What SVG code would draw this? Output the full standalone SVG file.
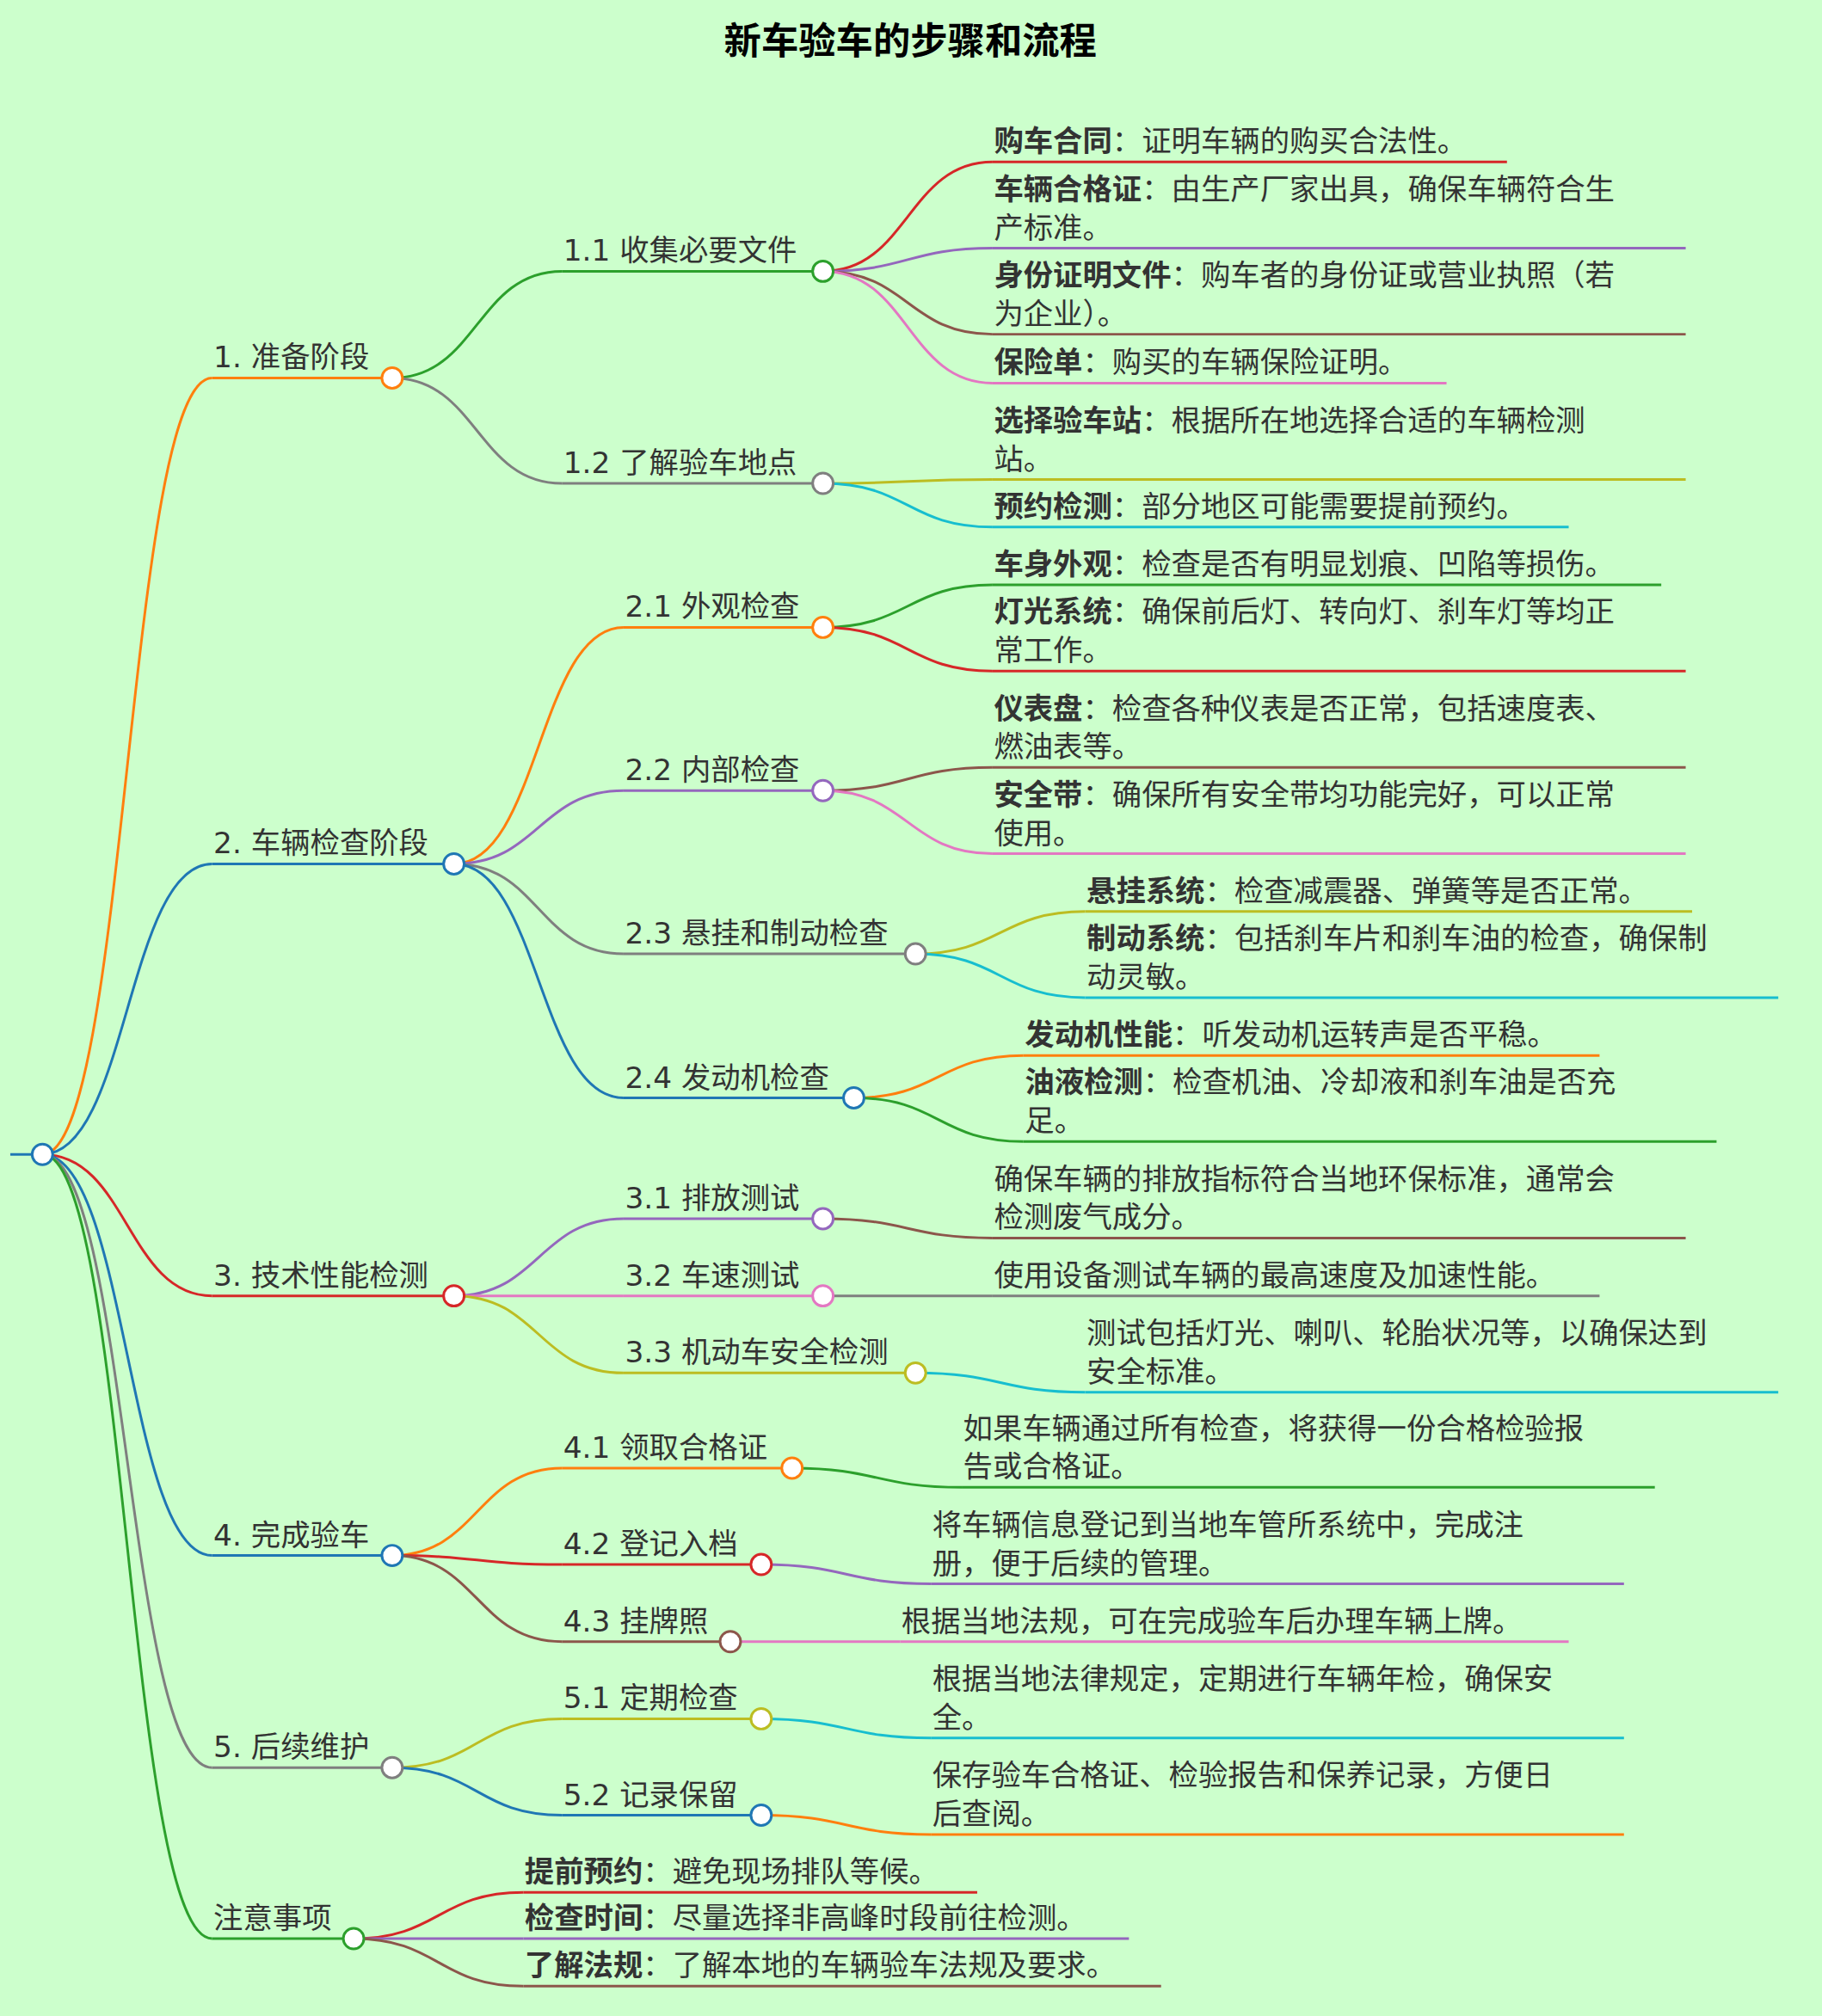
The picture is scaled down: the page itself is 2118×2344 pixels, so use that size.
<svg xmlns="http://www.w3.org/2000/svg" width="2118" height="2344" viewBox="0 0 2118 2344">
<style>
.t{font-family:"DejaVu Sans","Noto Sans CJK SC",sans-serif;font-size:23px;fill:#333}
.b{font-weight:bold}
.e{fill:none;stroke-width:2}
.c{fill:#fff;stroke-width:2}
.title{font-family:"Noto Sans CJK SC",sans-serif;font-size:29px;font-weight:bold;fill:#000}
</style>
<rect width="2118" height="2344" fill="#ccffcc"/>
<g transform="scale(1.4947)">
<text class="title" x="708" y="42" text-anchor="middle">新车验车的步骤和流程</text>
<g id="connectors">
<path class="e" stroke="#1f77b4" d="M8 898H25"/>
<path class="e" stroke="#ff7f0e" d="M33 898C99 898 99 294 165 294"/>
<path class="e" stroke="#1f77b4" d="M33 898C99 898 99 672 165 672"/>
<path class="e" stroke="#d62728" d="M33 898C99 898 99 1008 165 1008"/>
<path class="e" stroke="#1f77b4" d="M33 898C99 898 99 1210 165 1210"/>
<path class="e" stroke="#7f7f7f" d="M33 898C99 898 99 1375 165 1375"/>
<path class="e" stroke="#2ca02c" d="M33 898C99 898 99 1508 165 1508"/>
<path class="e" stroke="#2ca02c" d="M305 294C371 294 371 211 437 211"/>
<path class="e" stroke="#7f7f7f" d="M305 294C371 294 371 376 437 376"/>
<path class="e" stroke="#ff7f0e" d="M353 672C419 672 419 488 485 488"/>
<path class="e" stroke="#9467bd" d="M353 672C419 672 419 615 485 615"/>
<path class="e" stroke="#7f7f7f" d="M353 672C419 672 419 742 485 742"/>
<path class="e" stroke="#1f77b4" d="M353 672C419 672 419 854 485 854"/>
<path class="e" stroke="#9467bd" d="M353 1008C419 1008 419 948 485 948"/>
<path class="e" stroke="#e377c2" d="M353 1008C419 1008 419 1008 485 1008"/>
<path class="e" stroke="#bcbd22" d="M353 1008C419 1008 419 1068 485 1068"/>
<path class="e" stroke="#ff7f0e" d="M305 1210C371 1210 371 1142 437 1142"/>
<path class="e" stroke="#d62728" d="M305 1210C371 1210 371 1217 437 1217"/>
<path class="e" stroke="#8c564b" d="M305 1210C371 1210 371 1277 437 1277"/>
<path class="e" stroke="#bcbd22" d="M305 1375C371 1375 371 1337 437 1337"/>
<path class="e" stroke="#1f77b4" d="M305 1375C371 1375 371 1412 437 1412"/>
<path class="e" stroke="#d62728" d="M275 1508C341 1508 341 1472 407 1472"/>
<path class="e" stroke="#9467bd" d="M275 1508C341 1508 341 1508 407 1508"/>
<path class="e" stroke="#8c564b" d="M275 1508C341 1508 341 1545 407 1545"/>
<path class="e" stroke="#d62728" d="M640 211C706 211 706 126 772 126"/>
<path class="e" stroke="#9467bd" d="M640 211C706 211 706 193 772 193"/>
<path class="e" stroke="#8c564b" d="M640 211C706 211 706 260 772 260"/>
<path class="e" stroke="#e377c2" d="M640 211C706 211 706 298 772 298"/>
<path class="e" stroke="#bcbd22" d="M640 376C706 376 706 373 772 373"/>
<path class="e" stroke="#17becf" d="M640 376C706 376 706 410 772 410"/>
<path class="e" stroke="#2ca02c" d="M640 488C706 488 706 455 772 455"/>
<path class="e" stroke="#d62728" d="M640 488C706 488 706 522 772 522"/>
<path class="e" stroke="#8c564b" d="M640 615C706 615 706 597 772 597"/>
<path class="e" stroke="#e377c2" d="M640 615C706 615 706 664 772 664"/>
<path class="e" stroke="#bcbd22" d="M712 742C778 742 778 709 844 709"/>
<path class="e" stroke="#17becf" d="M712 742C778 742 778 776 844 776"/>
<path class="e" stroke="#ff7f0e" d="M664 854C730 854 730 821 796 821"/>
<path class="e" stroke="#2ca02c" d="M664 854C730 854 730 888 796 888"/>
<path class="e" stroke="#8c564b" d="M640 948C706 948 706 963 772 963"/>
<path class="e" stroke="#7f7f7f" d="M640 1008C706 1008 706 1008 772 1008"/>
<path class="e" stroke="#17becf" d="M712 1068C778 1068 778 1083 844 1083"/>
<path class="e" stroke="#2ca02c" d="M616 1142C682 1142 682 1157 748 1157"/>
<path class="e" stroke="#9467bd" d="M592 1217C658 1217 658 1232 724 1232"/>
<path class="e" stroke="#e377c2" d="M568 1277C634 1277 634 1277 700 1277"/>
<path class="e" stroke="#17becf" d="M592 1337C658 1337 658 1352 724 1352"/>
<path class="e" stroke="#ff7f0e" d="M592 1412C658 1412 658 1427 724 1427"/>
</g>
<g id="root"><circle class="c" stroke="#1f77b4" cx="33" cy="898" r="8"/></g>
<g id="n1"><path class="e" stroke="#ff7f0e" d="M165 294H305"/><circle class="c" stroke="#ff7f0e" cx="305" cy="294" r="8"/><text class="t" x="166" y="286">1. 准备阶段</text></g>
<g id="n2"><path class="e" stroke="#1f77b4" d="M165 672H353"/><circle class="c" stroke="#1f77b4" cx="353" cy="672" r="8"/><text class="t" x="166" y="664">2. 车辆检查阶段</text></g>
<g id="n3"><path class="e" stroke="#d62728" d="M165 1008H353"/><circle class="c" stroke="#d62728" cx="353" cy="1008" r="8"/><text class="t" x="166" y="1000">3. 技术性能检测</text></g>
<g id="n4"><path class="e" stroke="#1f77b4" d="M165 1210H305"/><circle class="c" stroke="#1f77b4" cx="305" cy="1210" r="8"/><text class="t" x="166" y="1202">4. 完成验车</text></g>
<g id="n5"><path class="e" stroke="#7f7f7f" d="M165 1375H305"/><circle class="c" stroke="#7f7f7f" cx="305" cy="1375" r="8"/><text class="t" x="166" y="1367">5. 后续维护</text></g>
<g id="n6"><path class="e" stroke="#2ca02c" d="M165 1508H275"/><circle class="c" stroke="#2ca02c" cx="275" cy="1508" r="8"/><text class="t" x="166" y="1500">注意事项</text></g>
<g id="n11"><path class="e" stroke="#2ca02c" d="M437 211H640"/><circle class="c" stroke="#2ca02c" cx="640" cy="211" r="8"/><text class="t" x="438" y="203">1.1 收集必要文件</text></g>
<g id="n12"><path class="e" stroke="#7f7f7f" d="M437 376H640"/><circle class="c" stroke="#7f7f7f" cx="640" cy="376" r="8"/><text class="t" x="438" y="368">1.2 了解验车地点</text></g>
<g id="n21"><path class="e" stroke="#ff7f0e" d="M485 488H640"/><circle class="c" stroke="#ff7f0e" cx="640" cy="488" r="8"/><text class="t" x="486" y="480">2.1 外观检查</text></g>
<g id="n22"><path class="e" stroke="#9467bd" d="M485 615H640"/><circle class="c" stroke="#9467bd" cx="640" cy="615" r="8"/><text class="t" x="486" y="607">2.2 内部检查</text></g>
<g id="n23"><path class="e" stroke="#7f7f7f" d="M485 742H712"/><circle class="c" stroke="#7f7f7f" cx="712" cy="742" r="8"/><text class="t" x="486" y="734">2.3 悬挂和制动检查</text></g>
<g id="n24"><path class="e" stroke="#1f77b4" d="M485 854H664"/><circle class="c" stroke="#1f77b4" cx="664" cy="854" r="8"/><text class="t" x="486" y="846">2.4 发动机检查</text></g>
<g id="n31"><path class="e" stroke="#9467bd" d="M485 948H640"/><circle class="c" stroke="#9467bd" cx="640" cy="948" r="8"/><text class="t" x="486" y="940">3.1 排放测试</text></g>
<g id="n32"><path class="e" stroke="#e377c2" d="M485 1008H640"/><circle class="c" stroke="#e377c2" cx="640" cy="1008" r="8"/><text class="t" x="486" y="1000">3.2 车速测试</text></g>
<g id="n33"><path class="e" stroke="#bcbd22" d="M485 1068H712"/><circle class="c" stroke="#bcbd22" cx="712" cy="1068" r="8"/><text class="t" x="486" y="1060">3.3 机动车安全检测</text></g>
<g id="n41"><path class="e" stroke="#ff7f0e" d="M437 1142H616"/><circle class="c" stroke="#ff7f0e" cx="616" cy="1142" r="8"/><text class="t" x="438" y="1134">4.1 领取合格证</text></g>
<g id="n42"><path class="e" stroke="#d62728" d="M437 1217H592"/><circle class="c" stroke="#d62728" cx="592" cy="1217" r="8"/><text class="t" x="438" y="1209">4.2 登记入档</text></g>
<g id="n43"><path class="e" stroke="#8c564b" d="M437 1277H568"/><circle class="c" stroke="#8c564b" cx="568" cy="1277" r="8"/><text class="t" x="438" y="1269">4.3 挂牌照</text></g>
<g id="n51"><path class="e" stroke="#bcbd22" d="M437 1337H592"/><circle class="c" stroke="#bcbd22" cx="592" cy="1337" r="8"/><text class="t" x="438" y="1329">5.1 定期检查</text></g>
<g id="n52"><path class="e" stroke="#1f77b4" d="M437 1412H592"/><circle class="c" stroke="#1f77b4" cx="592" cy="1412" r="8"/><text class="t" x="438" y="1404">5.2 记录保留</text></g>
<g id="n61"><path class="e" stroke="#d62728" d="M407 1472H760"/><text class="t" x="408" y="1464"><tspan class="b">提前预约</tspan>：避免现场排队等候。</text></g>
<g id="n62"><path class="e" stroke="#9467bd" d="M407 1508H878"/><text class="t" x="408" y="1500"><tspan class="b">检查时间</tspan>：尽量选择非高峰时段前往检测。</text></g>
<g id="n63"><path class="e" stroke="#8c564b" d="M407 1545H903"/><text class="t" x="408" y="1537"><tspan class="b">了解法规</tspan>：了解本地的车辆验车法规及要求。</text></g>
<g id="l111"><path class="e" stroke="#d62728" d="M772 126H1172"/><text class="t" x="773" y="118"><tspan class="b">购车合同</tspan>：证明车辆的购买合法性。</text></g>
<g id="l112"><path class="e" stroke="#9467bd" d="M772 193H1311"/><text class="t" x="773" y="155"><tspan class="b">车辆合格证</tspan>：由生产厂家出具，确保车辆符合生</text><text class="t" x="773" y="185">产标准。</text></g>
<g id="l113"><path class="e" stroke="#8c564b" d="M772 260H1311"/><text class="t" x="773" y="222"><tspan class="b">身份证明文件</tspan>：购车者的身份证或营业执照（若</text><text class="t" x="773" y="252">为企业）。</text></g>
<g id="l114"><path class="e" stroke="#e377c2" d="M772 298H1125"/><text class="t" x="773" y="290"><tspan class="b">保险单</tspan>：购买的车辆保险证明。</text></g>
<g id="l121"><path class="e" stroke="#bcbd22" d="M772 373H1311"/><text class="t" x="773" y="335"><tspan class="b">选择验车站</tspan>：根据所在地选择合适的车辆检测</text><text class="t" x="773" y="365">站。</text></g>
<g id="l122"><path class="e" stroke="#17becf" d="M772 410H1220"/><text class="t" x="773" y="402"><tspan class="b">预约检测</tspan>：部分地区可能需要提前预约。</text></g>
<g id="l211"><path class="e" stroke="#2ca02c" d="M772 455H1292"/><text class="t" x="773" y="447"><tspan class="b">车身外观</tspan>：检查是否有明显划痕、凹陷等损伤。</text></g>
<g id="l212"><path class="e" stroke="#d62728" d="M772 522H1311"/><text class="t" x="773" y="484"><tspan class="b">灯光系统</tspan>：确保前后灯、转向灯、刹车灯等均正</text><text class="t" x="773" y="514">常工作。</text></g>
<g id="l221"><path class="e" stroke="#8c564b" d="M772 597H1311"/><text class="t" x="773" y="559"><tspan class="b">仪表盘</tspan>：检查各种仪表是否正常，包括速度表、</text><text class="t" x="773" y="589">燃油表等。</text></g>
<g id="l222"><path class="e" stroke="#e377c2" d="M772 664H1311"/><text class="t" x="773" y="626"><tspan class="b">安全带</tspan>：确保所有安全带均功能完好，可以正常</text><text class="t" x="773" y="656">使用。</text></g>
<g id="l231"><path class="e" stroke="#bcbd22" d="M844 709H1316"/><text class="t" x="845" y="701"><tspan class="b">悬挂系统</tspan>：检查减震器、弹簧等是否正常。</text></g>
<g id="l232"><path class="e" stroke="#17becf" d="M844 776H1383"/><text class="t" x="845" y="738"><tspan class="b">制动系统</tspan>：包括刹车片和刹车油的检查，确保制</text><text class="t" x="845" y="768">动灵敏。</text></g>
<g id="l241"><path class="e" stroke="#ff7f0e" d="M796 821H1244"/><text class="t" x="797" y="813"><tspan class="b">发动机性能</tspan>：听发动机运转声是否平稳。</text></g>
<g id="l242"><path class="e" stroke="#2ca02c" d="M796 888H1335"/><text class="t" x="797" y="850"><tspan class="b">油液检测</tspan>：检查机油、冷却液和刹车油是否充</text><text class="t" x="797" y="880">足。</text></g>
<g id="l31"><path class="e" stroke="#8c564b" d="M772 963H1311"/><text class="t" x="773" y="925">确保车辆的排放指标符合当地环保标准，通常会</text><text class="t" x="773" y="955">检测废气成分。</text></g>
<g id="l32"><path class="e" stroke="#7f7f7f" d="M772 1008H1244"/><text class="t" x="773" y="1000">使用设备测试车辆的最高速度及加速性能。</text></g>
<g id="l33"><path class="e" stroke="#17becf" d="M844 1083H1383"/><text class="t" x="845" y="1045">测试包括灯光、喇叭、轮胎状况等，以确保达到</text><text class="t" x="845" y="1075">安全标准。</text></g>
<g id="l41"><path class="e" stroke="#2ca02c" d="M748 1157H1287"/><text class="t" x="749" y="1119">如果车辆通过所有检查，将获得一份合格检验报</text><text class="t" x="749" y="1149">告或合格证。</text></g>
<g id="l42"><path class="e" stroke="#9467bd" d="M724 1232H1263"/><text class="t" x="725" y="1194">将车辆信息登记到当地车管所系统中，完成注</text><text class="t" x="725" y="1224">册，便于后续的管理。</text></g>
<g id="l43"><path class="e" stroke="#e377c2" d="M700 1277H1220"/><text class="t" x="701" y="1269">根据当地法规，可在完成验车后办理车辆上牌。</text></g>
<g id="l51"><path class="e" stroke="#17becf" d="M724 1352H1263"/><text class="t" x="725" y="1314">根据当地法律规定，定期进行车辆年检，确保安</text><text class="t" x="725" y="1344">全。</text></g>
<g id="l52"><path class="e" stroke="#ff7f0e" d="M724 1427H1263"/><text class="t" x="725" y="1389">保存验车合格证、检验报告和保养记录，方便日</text><text class="t" x="725" y="1419">后查阅。</text></g>
</g>
</svg>
